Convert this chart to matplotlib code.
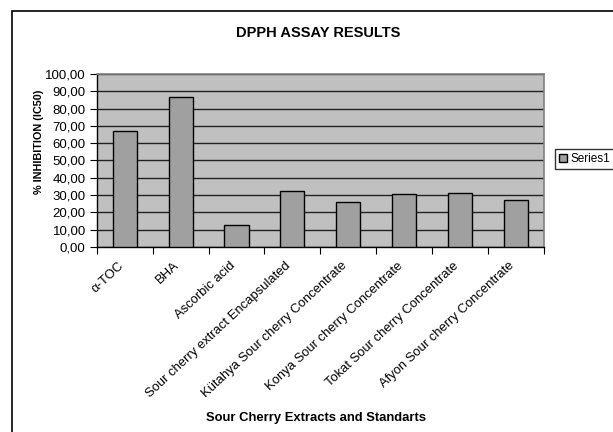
import matplotlib.pyplot as plt
from matplotlib.patches import Rectangle
from matplotlib.ticker import MultipleLocator, FuncFormatter

plt.rcParams['font.family'] = ['Liberation Sans', 'DejaVu Sans']

categories = ["α-TOC", "BHA", "Ascorbic acid", "Sour cherry extract Encapsulated",
              "Kütahya Sour cherry Concentrate", "Konya Sour cherry Concentrate",
              "Tokat Sour cherry Concentrate", "Afyon Sour cherry Concentrate"]
values = [67.1, 86.8, 12.6, 32.1, 26.1, 30.8, 31.3, 27.1]
series_name = "Series1"

fig = plt.figure(figsize=(6.13, 4.32), dpi=100)
ax = fig.add_axes([0.158, 0.428, 0.729, 0.401])

# outer chart frame
fig.patches.append(Rectangle((12 / 613, -0.05), 1.0, (432 - 11) / 432 + 0.05,
                             transform=fig.transFigure, fill=False,
                             edgecolor='black', linewidth=1.2))

ax.set_facecolor('#c0c0c0')
x = list(range(len(categories)))
bars = ax.bar(x, values, width=0.43, color='#a0a0a0', edgecolor='black',
              linewidth=1.0, zorder=3, label=series_name)

ax.set_xlim(-0.5, len(categories) - 0.5)
ax.set_ylim(0, 100)
ax.yaxis.set_major_locator(MultipleLocator(10))
ax.yaxis.set_major_formatter(FuncFormatter(lambda v, p: f"{v:.2f}".replace('.', ',')))
ax.yaxis.grid(True, color='#222222', linewidth=1.0, zorder=1)
ax.set_axisbelow(True)

for s in ['top', 'right']:
    ax.spines[s].set_color('#808080')
    ax.spines[s].set_linewidth(1.2)
for s in ['left', 'bottom']:
    ax.spines[s].set_color('black')
    ax.spines[s].set_linewidth(1.0)

# ticks between categories; labels sit a little left of each category centre
ax.set_xticks([i + 0.5 for i in range(-1, len(categories))], minor=False)
ax.set_xticklabels([])
ax.set_xticks([i - 0.13 for i in x], minor=True)
ax.set_xticklabels(categories, minor=True, rotation=43, ha='right',
                   rotation_mode='anchor', fontsize=9.4)
ax.tick_params(axis='x', which='minor', length=0, pad=9)
ax.tick_params(axis='x', which='major', length=5, direction='out', color='black')
ax.tick_params(axis='y', length=5, direction='out', labelsize=9.5, pad=3)

fig.text(318 / 613, 1 - 33 / 432, "DPPH ASSAY RESULTS", fontsize=10.5,
         fontweight='bold', ha='center', va='center')
ax.set_ylabel("% INHIBITION (IC50)", fontsize=7.8, fontweight='bold')
ax.yaxis.set_label_coords((44 - 97) / 447, 0.607)
fig.text(315.5 / 613, 1 - 418 / 432, "Sour Cherry Extracts and Standarts",
         fontsize=9.4, fontweight='bold', ha='center', va='center')

leg = fig.legend(handles=[bars], labels=[series_name], loc='center left',
                 bbox_to_anchor=(555 / 613, 1 - 159 / 432), fontsize=8.5,
                 frameon=True, fancybox=False, edgecolor='black',
                 handlelength=0.7, handleheight=0.7, handletextpad=0.3,
                 borderpad=0.3, borderaxespad=0)
leg.get_frame().set_linewidth(1.0)

fig.savefig("out.png", dpi=100)
